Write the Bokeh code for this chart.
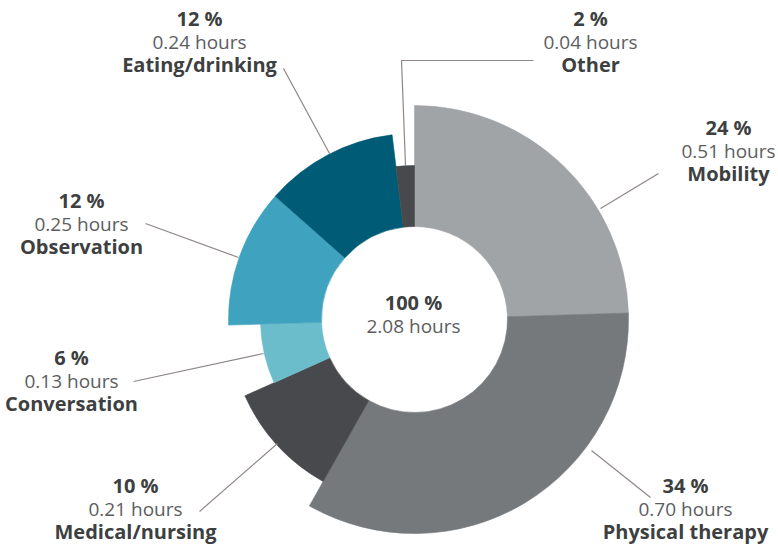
import math
from bokeh.plotting import figure
from bokeh.models import Range1d, ColumnDataSource
from bokeh.core.properties import value
from bokeh.embed import file_html
from bokeh.resources import INLINE

# ---------------- data ----------------
categories = ["Mobility", "Physical therapy", "Medical/nursing", "Conversation",
              "Observation", "Eating/drinking", "Other"]
percents = [24, 34, 10, 6, 12, 12, 2]
hours = [0.51, 0.70, 0.21, 0.13, 0.25, 0.24, 0.04]
ring = [3, 3, 2, 1, 2, 2, 1]          # ring level of each slice
total_percent = 100
total_hours = 2.08

# ---------------- layout / style ----------------
W, H = 778, 546
CX, CY = 414, 319                     # pixel position of the centre
INNER = 93
RING_RADII = {1: 154, 2: 186, 3: 214}
colors = ["#A1A4A7", "#76797C", "#47494C", "#6CBDCC", "#3FA3BF", "#005B76", "#47494C"]

# label block centres (pixel coords, centre x, y of first line)
label_pos = {
    "Mobility": (728, 127),
    "Physical therapy": (685, 485),
    "Medical/nursing": (135, 485),
    "Conversation": (71, 357),
    "Observation": (81, 200),
    "Eating/drinking": (199, 18),
    "Other": (590, 18),
}
leaders = {
    "Mobility": [(658, 173), (600, 208)],
    "Physical therapy": [(591, 450), (650, 497)],
    "Medical/nursing": [(199, 511), (277, 443)],
    "Conversation": [(133, 381), (263, 353)],
    "Observation": [(145, 223), (238, 257)],
    "Eating/drinking": [(283, 68), (329, 153)],
    "Other": [(533, 60), (401, 60), (405, 165)],
}
LINE_GAP = 23
FONT = "Open Sans"
BOLD_COLOR = "#3E3F41"
REG_COLOR = "#5C5D5F"
LEADER_COLOR = "#8E8785"


def fy(y):
    return H - y


p = figure(width=W, height=H, x_range=Range1d(0, W), y_range=Range1d(0, H),
           output_backend="svg", toolbar_location=None, min_border=0)
p.axis.visible = False
p.grid.visible = False
p.outline_line_color = None
p.background_fill_color = "white"
p.border_fill_color = "white"
p.min_border_left = p.min_border_right = p.min_border_top = p.min_border_bottom = 0

# wedges: clockwise from 12 o'clock, angle by hours
starts, ends = [], []
cum = 0.0
for h in hours:
    c0 = cum / total_hours
    cum += h
    c1 = cum / total_hours
    starts.append(math.pi / 2 - 2 * math.pi * c1)
    ends.append(math.pi / 2 - 2 * math.pi * c0)

src = ColumnDataSource(dict(
    x=[CX] * len(categories), y=[fy(CY)] * len(categories),
    start=starts, end=ends,
    outer=[RING_RADII[r] for r in ring],
    color=colors,
))
p.annular_wedge(x="x", y="y", inner_radius=INNER, outer_radius="outer",
                start_angle="start", end_angle="end", fill_color="color",
                line_color="color", line_width=0.6, source=src)

# leader lines
for cat, pts in leaders.items():
    p.line([q[0] for q in pts], [fy(q[1]) for q in pts],
           line_color=LEADER_COLOR, line_width=1.2)

# labels
bx, by, bt = [], [], []
rx, ry, rt = [], [], []
for cat, pc, hr in zip(categories, percents, hours):
    x0, y0 = label_pos[cat]
    bx.append(x0); by.append(fy(y0)); bt.append(f"{pc} %")
    rx.append(x0); ry.append(fy(y0 + LINE_GAP)); rt.append(f"{hr:.2f} hours")
    bx.append(x0); by.append(fy(y0 + 2 * LINE_GAP)); bt.append(cat)

# centre
bx.append(CX - 1); by.append(fy(302)); bt.append(f"{total_percent} %")
rx.append(CX - 1); ry.append(fy(325)); rt.append(f"{total_hours:.2f} hours")

p.text(x=bx, y=by, text=bt, text_font=value(FONT), text_font_style="bold",
       text_font_size="20px", text_color=BOLD_COLOR,
       text_align="center", text_baseline="middle")
p.text(x=rx, y=ry, text=rt, text_font=value(FONT), text_font_style="normal",
       text_font_size="19px", text_color=REG_COLOR,
       text_align="center", text_baseline="middle")

open("out.html", "w").write(file_html(p, INLINE))
